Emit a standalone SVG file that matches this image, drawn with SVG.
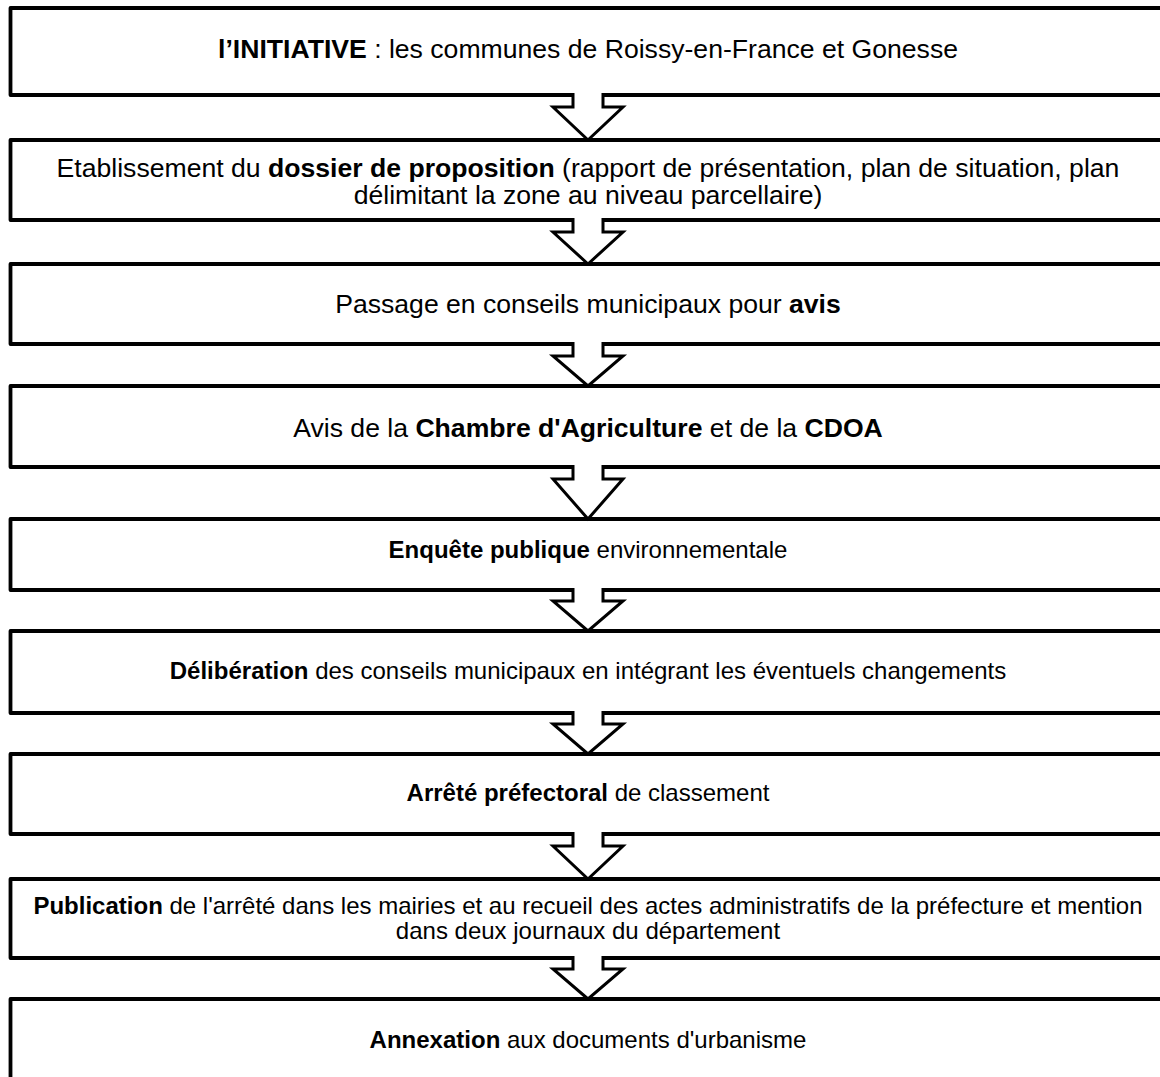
<svg xmlns="http://www.w3.org/2000/svg" width="1160" height="1077" viewBox="0 0 1160 1077">
<style>
.box{fill:#fff;stroke:#000;stroke-width:3.8;stroke-linejoin:round}
.arr{fill:#fff;stroke:#000;stroke-width:3;stroke-linejoin:miter}
.t{font-family:"Liberation Sans",Arial,sans-serif;fill:#000;text-anchor:middle}
.L{font-size:26.6px}
.S{font-size:24px}
.b{font-weight:bold}
</style>
<rect width="1160" height="1077" fill="#fff"/>
<g id="n1"><rect class="box" x="10.5" y="8" width="1156" height="87"/>
<text class="t L" x="588" y="58"><tspan class="b">l’INITIATIVE</tspan> : les communes de Roissy-en-France et Gonesse</text></g>
<g id="n2"><rect class="box" x="10.5" y="140" width="1156" height="80"/>
<text class="t L" x="588" y="177">Etablissement du <tspan class="b">dossier de proposition</tspan> (rapport de présentation, plan de situation, plan</text>
<text class="t L" x="588" y="204">délimitant la zone au niveau parcellaire)</text></g>
<g id="n3"><rect class="box" x="10.5" y="264" width="1156" height="80"/>
<text class="t L" x="588" y="313">Passage en conseils municipaux pour <tspan class="b">avis</tspan></text></g>
<g id="n4"><rect class="box" x="10.5" y="386" width="1156" height="81"/>
<text class="t L" x="588" y="437">Avis de la <tspan class="b">Chambre d'Agriculture</tspan> et de la <tspan class="b">CDOA</tspan></text></g>
<g id="n5"><rect class="box" x="10.5" y="519" width="1156" height="71"/>
<text class="t S" x="588" y="558"><tspan class="b">Enquête publique</tspan> environnementale</text></g>
<g id="n6"><rect class="box" x="10.5" y="631" width="1156" height="82"/>
<text class="t S" x="588" y="679"><tspan class="b">Délibération</tspan> des conseils municipaux en intégrant les éventuels changements</text></g>
<g id="n7"><rect class="box" x="10.5" y="754" width="1156" height="80"/>
<text class="t S" x="588" y="801"><tspan class="b">Arrêté préfectoral</tspan> de classement</text></g>
<g id="n8"><rect class="box" x="10.5" y="879" width="1156" height="79"/>
<text class="t S" x="588" y="914"><tspan class="b">Publication</tspan> de l'arrêté dans les mairies et au recueil des actes administratifs de la préfecture et mention</text>
<text class="t S" x="588" y="939">dans deux journaux du département</text></g>
<g id="n9"><rect class="box" x="10.5" y="999" width="1156" height="100"/>
<text class="t S" x="588" y="1048"><tspan class="b">Annexation</tspan> aux documents d'urbanisme</text></g>
<g id="connectors">
<path class="arr" d="M573,93 V107 H553 L588,140 L623,107 H603 V93"/>
<path class="arr" d="M573,218 V232 H553 L588,264 L623,232 H603 V218"/>
<path class="arr" d="M573,342 V356 H553 L588,386 L623,356 H603 V342"/>
<path class="arr" d="M573,465 V479 H553 L588,519 L623,479 H603 V465"/>
<path class="arr" d="M573,588 V601 H553 L588,631 L623,601 H603 V588"/>
<path class="arr" d="M573,711 V724 H553 L588,754 L623,724 H603 V711"/>
<path class="arr" d="M573,832 V846 H553 L588,879 L623,846 H603 V832"/>
<path class="arr" d="M573,956 V969 H553 L588,999 L623,969 H603 V956"/>
</g>
</svg>
